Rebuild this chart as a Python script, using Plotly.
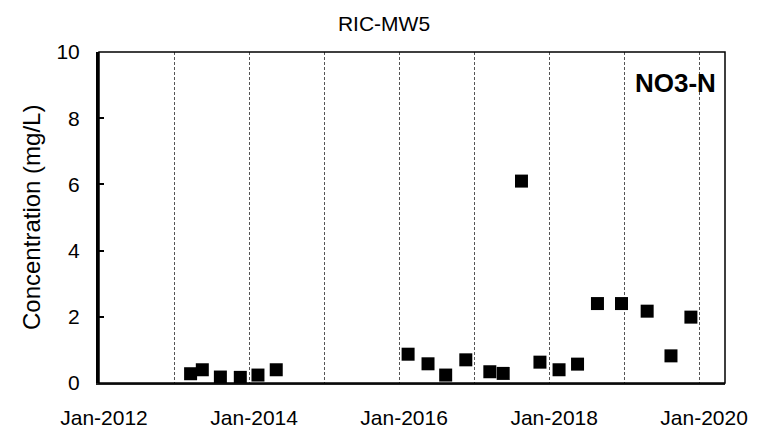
import plotly.graph_objects as go

sample_dates = [
    "2013-03-22", "2013-05-18", "2013-08-14", "2013-11-19", "2014-02-13", "2014-05-13",
    "2016-02-14", "2016-05-21", "2016-08-15", "2016-11-21", "2017-03-18", "2017-05-22",
    "2017-08-19", "2017-11-17", "2018-02-18", "2018-05-19", "2018-08-24", "2018-12-19",
    "2019-04-23", "2019-08-17", "2019-11-22",
]
no3_n = [
    0.28, 0.40, 0.18, 0.17, 0.24, 0.40,
    0.87, 0.58, 0.24, 0.70, 0.34, 0.29,
    6.10, 0.63, 0.40, 0.57, 2.40, 2.40,
    2.17, 0.82, 1.99,
]
y_ticks = [0, 2, 4, 6, 8, 10]
chart_title = "RIC-MW5"
y_title = "Concentration (mg/L)"
analyte = "NO3-N"

FONT = "Liberation Sans, Arial, sans-serif"
W, H = 759, 433
L, R, T, B = 91, 717, 44, 382

fig = go.Figure()
fig.add_trace(go.Scatter(
    x=sample_dates, y=no3_n, mode="markers",
    marker=dict(symbol="square", size=13, color="black"),
    showlegend=False,
))

fig.update_layout(
    width=W, height=H,
    margin=dict(l=L, r=W - R, t=T, b=H - B, pad=0),
    paper_bgcolor="white", plot_bgcolor="white",
    font=dict(family=FONT, color="black", size=21),
    title=dict(text=chart_title, x=376 / W, xanchor="center", y=1 - 16 / H, yanchor="middle",
               font=dict(family=FONT, size=21, color="black")),
    xaxis=dict(
        type="date",
        range=["2012-01-01", "2020-05-06"],
        tick0="2012-01-01", dtick="M24", tickformat="%b-%Y",
        showgrid=True, gridcolor="#555555", gridwidth=1, griddash="3px,2px",
        minor=dict(dtick="M12", tick0="2012-01-01", showgrid=True, gridcolor="#555555",
                   gridwidth=1, griddash="3px,2px", ticks=""),
        ticks="", showline=True, linecolor="#222222", linewidth=2, mirror=False,
        tickfont=dict(family=FONT, size=21, color="black"),
        ticklabelstandoff=15, ticklabelshift=5,
        zeroline=False,
    ),
    yaxis=dict(
        range=[0, 10], tickvals=y_ticks,
        showgrid=False, zeroline=False,
        ticks="inside", ticklen=5, tickwidth=1.5, tickcolor="black",
        showline=True, linecolor="black", linewidth=3,
        tickfont=dict(family=FONT, size=21, color="black"),
        ticklabelstandoff=12,
    ),
    shapes=[dict(type="rect", xref="paper", yref="paper", x0=0, y0=0, x1=1, y1=1,
                 line=dict(color="black", width=1.5), layer="above")],
    annotations=[
        dict(text=y_title, textangle=-90, xref="paper", yref="paper",
             x=(23.5 - L) / (R - L), y=0.5, xanchor="center", yanchor="middle",
             showarrow=False, font=dict(family=FONT, size=24, color="black")),
        dict(text="<b>" + analyte + "</b>", xref="paper", yref="paper",
             x=(667.5 - L) / (R - L), y=(B - 76) / (B - T), xanchor="center", yanchor="middle",
             showarrow=False, font=dict(family=FONT, size=26, color="black")),
    ],
)

fig.write_html("out.html")
